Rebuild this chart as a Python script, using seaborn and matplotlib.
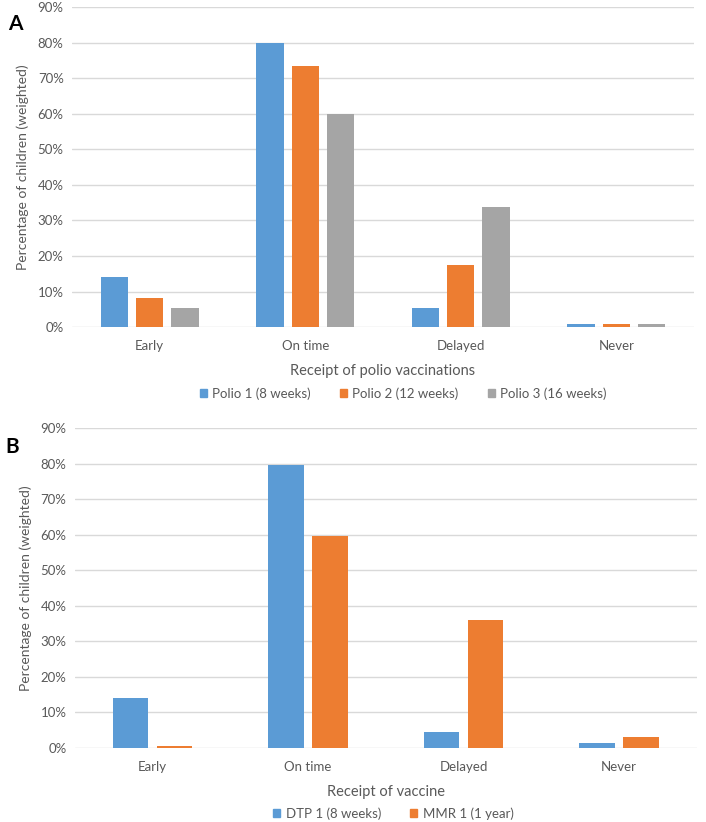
import pandas as pd
import seaborn as sns
from matplotlib import pyplot as plt
from matplotlib.patches import Patch
from matplotlib.ticker import FuncFormatter

# Data (percent of children, weighted)
timing = ['Early', 'On time', 'Delayed', 'Never']

polio_series = ['Polio 1 (8 weeks)', 'Polio 2 (12 weeks)', 'Polio 3 (16 weeks)']
polio1 = [14.0, 80.0, 5.3, 0.8]
polio2 = [8.2, 73.4, 17.6, 0.8]
polio3 = [5.3, 60.0, 33.8, 0.8]

vacc_series = ['DTP 1 (8 weeks)', 'MMR 1 (1 year)']
dtp1 = [14.1, 79.8, 4.6, 1.3]
mmr1 = [0.6, 59.6, 36.1, 3.0]

yticks = [0, 10, 20, 30, 40, 50, 60, 70, 80, 90]

colors = ['#5B9BD5', '#ED7D31', '#A5A5A5']
text_col = '#595959'
grid_col = '#D9D9D9'


def long_table(series_names, series_values):
    rows = []
    for name, vals in zip(series_names, series_values):
        for cat, v in zip(timing, vals):
            rows.append({'Timing': cat, 'Series': name, 'Value': v})
    return pd.DataFrame(rows)


polio = long_table(polio_series, [polio1, polio2, polio3])
vacc = long_table(vacc_series, [dtp1, mmr1])

sns.set_style('white')
plt.rcParams['font.family'] = ['Lato', 'DejaVu Sans']

fig = plt.figure(figsize=(7.06, 8.22), dpi=100)
ax_a = fig.add_axes([0.102, 0.602, 0.881, 0.3895])
ax_b = fig.add_axes([0.106, 0.090, 0.881, 0.389])


def style_axis(ax, xlabel):
    ax.set_ylim(0, 90)
    ax.set_yticks(yticks)
    ax.yaxis.set_major_formatter(FuncFormatter(lambda v, p: f'{v:.0f}%'))
    ax.set_xlim(-0.5, 3.5)
    ax.grid(axis='y', color=grid_col, linewidth=1)
    ax.set_axisbelow(True)
    for s in ax.spines.values():
        s.set_visible(False)
    ax.tick_params(length=0, labelsize=9.5, labelcolor=text_col, pad=6)
    ax.tick_params(axis='x', pad=9)
    ax.set_ylabel('Percentage of children (weighted)', fontsize=10, color=text_col, labelpad=6)
    ax.set_xlabel(xlabel, fontsize=10.5, color=text_col, labelpad=9)


# Panel A
sns.barplot(data=polio, x='Timing', y='Value', hue='Series', order=timing,
            hue_order=polio_series, palette=colors, width=0.68, gap=0.23,
            saturation=1, linewidth=0, legend=False, ax=ax_a)
style_axis(ax_a, 'Receipt of polio vaccinations')
handles = [Patch(color=c) for c in colors]
fig.legend(handles, polio_series, loc='center', bbox_to_anchor=(0.571, 0.521),
           ncol=3, frameon=False, fontsize=9.5, labelcolor=text_col,
           handlelength=0.55, handleheight=0.55, handletextpad=0.4, columnspacing=2.2)
fig.text(0.012, 0.964, 'A', fontsize=15, fontweight='bold', color='black')

# Panel B
sns.barplot(data=vacc, x='Timing', y='Value', hue='Series', order=timing,
            hue_order=vacc_series, palette=colors[:2], width=0.566, gap=0.2,
            saturation=1, linewidth=0, legend=False, ax=ax_b)
style_axis(ax_b, 'Receipt of vaccine')
fig.legend(handles[:2], vacc_series, loc='center', bbox_to_anchor=(0.557, 0.010),
           ncol=2, frameon=False, fontsize=9.5, labelcolor=text_col,
           handlelength=0.55, handleheight=0.55, handletextpad=0.4, columnspacing=2.2)
fig.text(0.008, 0.449, 'B', fontsize=15, fontweight='bold', color='black')

plt.savefig('out.png', dpi=100)
